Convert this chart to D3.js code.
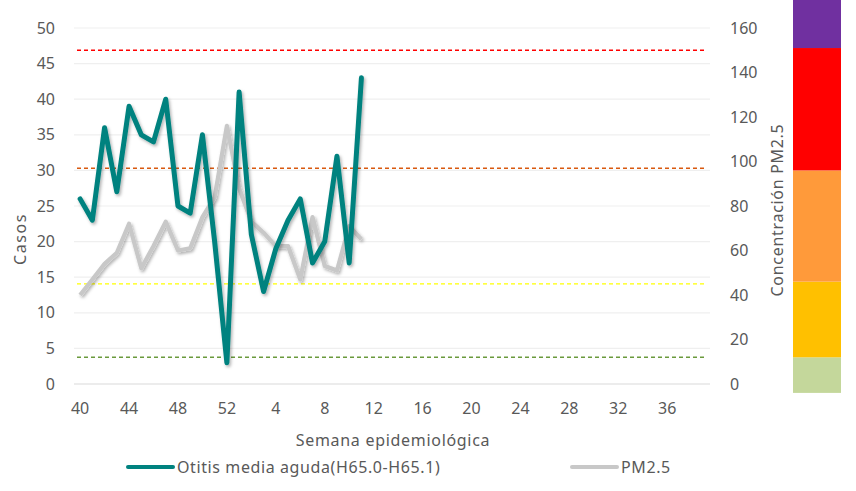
<!DOCTYPE html>
<html>
<head>
<meta charset="utf-8">
<script src="https://cdn.jsdelivr.net/npm/d3@7"></script>
<style>
  body { margin: 0; background: #fff; }
  svg text { font-family: "Liberation Sans Narrow", "Noto Sans", sans-serif; fill: #595959; }
</style>
</head>
<body>
<svg id="chart" width="856" height="491"></svg>
<script>
// weeks 40-52 then 1-39
const weeks = d3.range(40, 53).concat(d3.range(1, 40));
const otitis = [26, 23, 36, 27, 39, 35, 34, 40, 25, 24, 35, 20, 3, 41, 21, 13, 19, 23, 26, 17, 20, 32, 17, 43];
const pm25 = [40, 47, 54, 59, 72, 52, 62, 73, 60, 61, 75, 84, 116, 88, 73, 68, 62, 62, 47, 75, 53, 51, 71, 65];
const leftTicks = d3.range(0, 51, 5);
const rightTicks = d3.range(0, 161, 20);
// PM2.5 thresholds (dashed lines) and colour bands
const thresholds = [12, 45, 97, 150];
const thresholdColors = ["#6a9a3c", "#ffff00", "#d9590f", "#ff0000"];
const bands = [
  { from: -4, to: 12, color: "#c4d79b" },
  { from: 12, to: 46, color: "#ffc000" },
  { from: 46, to: 96, color: "#ff9a3a" },
  { from: 96, to: 151, color: "#ff0000" },
  { from: 151, to: 175, color: "#7030a0" }
];

const svg = d3.select("#chart");

const x = d3.scaleBand().domain(weeks).range([74, 710]);
const yL = d3.scaleLinear().domain([0, 50]).range([384, 28]);
const yR = d3.scaleLinear().domain([0, 160]).range([384, 28]);
const cx = (i) => x(weeks[i]) + x.bandwidth() / 2;

const defs = svg.append("defs");
const f = defs.append("filter").attr("id", "shadow").attr("x", "-10%").attr("y", "-10%").attr("width", "120%").attr("height", "120%");
f.append("feDropShadow").attr("dx", 1.5).attr("dy", 2).attr("stdDeviation", 1.5).attr("flood-color", "#000").attr("flood-opacity", 0.3);

// colour bar on the right
svg.append("g")
  .selectAll("rect")
  .data(bands)
  .join("rect")
  .attr("x", 793)
  .attr("width", 48)
  .attr("y", (d) => Math.max(0, yR(d.to)))
  .attr("height", (d) => yR(d.from) - Math.max(0, yR(d.to)))
  .attr("fill", (d) => d.color);

// gridlines
svg.append("g")
  .selectAll("line")
  .data(leftTicks)
  .join("line")
  .attr("x1", 74).attr("x2", 710)
  .attr("y1", (d) => yL(d)).attr("y2", (d) => yL(d))
  .attr("stroke", (d) => d === 0 ? "#d9d9d9" : "#efefef")
  .attr("stroke-width", 1.2);

// threshold dashed lines
svg.append("g")
  .selectAll("line")
  .data(thresholds)
  .join("line")
  .attr("x1", 77).attr("x2", 704)
  .attr("y1", (d) => yR(d)).attr("y2", (d) => yR(d))
  .attr("stroke", (d, i) => thresholdColors[i])
  .attr("stroke-width", 1.4)
  .attr("stroke-dasharray", "4,3");

// axes
const axL = svg.append("g")
  .attr("transform", "translate(55,0)")
  .call(d3.axisLeft(yL).tickValues(leftTicks).tickSize(0).tickPadding(0));
const axR = svg.append("g")
  .attr("transform", "translate(730,0)")
  .call(d3.axisRight(yR).tickValues(rightTicks).tickSize(0).tickPadding(0));
const axB = svg.append("g")
  .attr("transform", "translate(0,400)")
  .call(d3.axisBottom(x).tickValues(weeks.filter((d, i) => i % 4 === 0)).tickSize(0).tickPadding(3));
[axL, axR, axB].forEach((g) => {
  g.select(".domain").remove();
  g.selectAll("text").attr("font-size", 16).attr("font-family", null);
});

// series
const line = (ys, data) => d3.line().x((d, i) => cx(i)).y((d) => ys(d))(data);

svg.append("path")
  .attr("d", line(yR, pm25))
  .attr("fill", "none")
  .attr("stroke", "#c8c8c8")
  .attr("stroke-width", 4.2)
  .attr("stroke-linejoin", "round")
  .attr("filter", "url(#shadow)");

svg.append("path")
  .attr("d", line(yL, otitis))
  .attr("fill", "none")
  .attr("stroke", "#00827f")
  .attr("stroke-width", 5)
  .attr("stroke-linejoin", "round")
  .attr("stroke-linecap", "round")
  .attr("filter", "url(#shadow)");

// axis titles
svg.append("text")
  .attr("transform", "translate(26,239) rotate(-90)")
  .attr("text-anchor", "middle")
  .attr("font-size", 16)
  .attr("letter-spacing", 1.6)
  .text("Casos");
svg.append("text")
  .attr("transform", "translate(783,210) rotate(-90)")
  .attr("text-anchor", "middle")
  .attr("font-size", 16)
  .attr("letter-spacing", 0.7)
  .text("Concentración PM2.5");
svg.append("text")
  .attr("x", 393).attr("y", 446)
  .attr("text-anchor", "middle")
  .attr("font-size", 16)
  .attr("letter-spacing", 0.7)
  .text("Semana epidemiológica");

// legend
const legend = [
  { label: "Otitis media aguda(H65.0-H65.1)", color: "#00827f", x: 128 },
  { label: "PM2.5", color: "#c8c8c8", x: 572 }
];
const lg = svg.append("g").selectAll("g").data(legend).join("g")
  .attr("transform", (d) => `translate(${d.x},467)`);
lg.append("line")
  .attr("x1", 0).attr("x2", 45)
  .attr("stroke", (d) => d.color)
  .attr("stroke-width", 4)
  .attr("stroke-linecap", "round");
lg.append("text")
  .attr("x", 49).attr("y", 6)
  .attr("font-size", 16)
  .attr("letter-spacing", 0.6)
  .text((d) => d.label);
</script>
</body>
</html>
